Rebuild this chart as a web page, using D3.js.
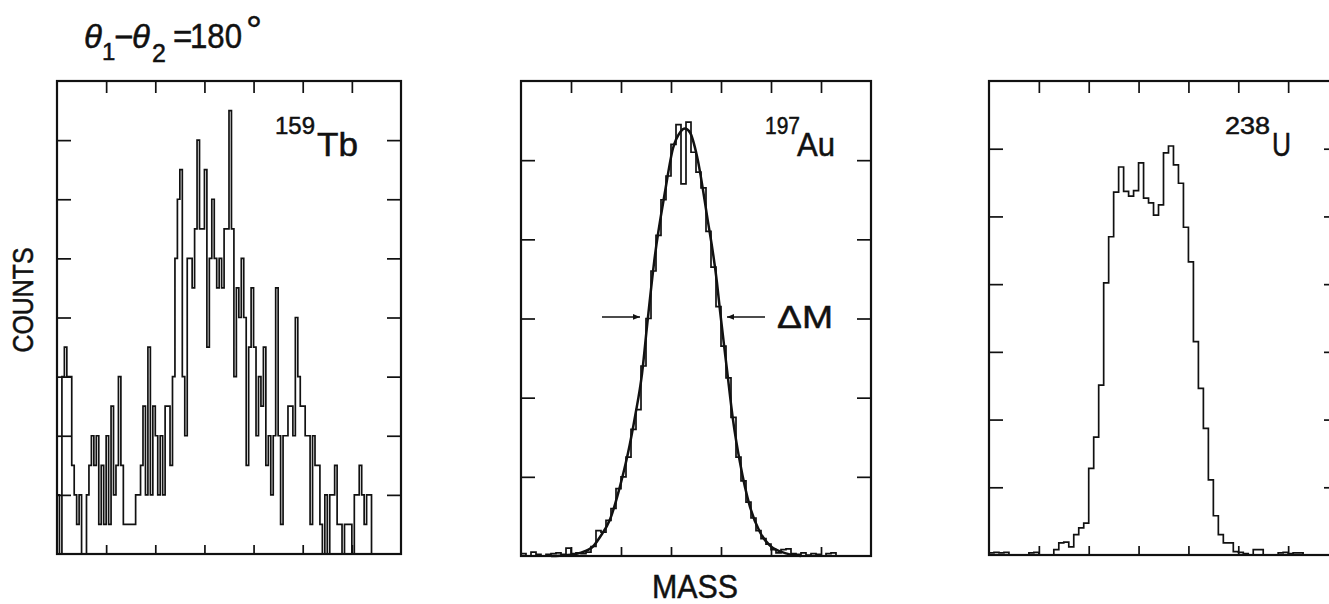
<!DOCTYPE html>
<html>
<head>
<meta charset="utf-8">
<script src="https://cdn.jsdelivr.net/npm/d3@7"></script>
<style>
  body { margin: 0; background: #fff; }
  text { font-family: "Liberation Sans", Arial, sans-serif; fill: #111; stroke: #111; stroke-width: 0.5; }
</style>
</head>
<body>
<div id="chart"></div>
<script>
// counts per channel
const tbCounts = [
  2, 0, 6, 7, 6, 6, 3, 2, 1, 2,
  0, 0, 2, 3, 4, 3, 4, 1, 3, 1,
  4, 1, 5, 2, 3, 6, 3, 1, 1, 1,
  1, 1, 2, 2, 3, 5, 2, 7, 2, 5,
  4, 2, 4, 2, 5, 5, 3, 6, 10, 12,
  13, 6, 4, 10, 10, 9, 11, 14, 11, 11,
  13, 7, 10, 12, 10, 9, 10, 9, 11, 11,
  15, 11, 6, 9, 8, 10, 8, 3, 7, 9,
  7, 4, 6, 5, 7, 3, 4, 2, 4, 9,
  4, 1, 4, 4, 5, 5, 4, 8, 6, 5,
  5, 4, 4, 1, 4, 3, 3, 1, 0, 2,
  0, 2, 2, 3, 1, 1, 0, 1, 1, 1,
  0, 2, 2, 3, 2, 1, 2, 2, 0, 0,
  0, 0, 0, 0, 0, 0, 0, 0, 0, 0
];

const auCounts = [
  3, 0, 5, 2, 0, 2, 3, 4, 2, 10,
  3, 4, 3, 5, 12, 32, 30, 45, 60, 85,
  100, 125, 160, 185, 240, 300, 360, 405, 450, 480,
  520, 545, 470, 548, 510, 485, 465, 410, 365, 315,
  265, 225, 175, 125, 95, 68, 48, 32, 22, 15,
  8, 4, 8, 9, 3, 2, 4, 1, 3, 2,
  0, 3, 4, 0, 0, 0, 0, 0, 0, 0
];

// gaussian fit drawn over the Au spectrum (channel, counts)
const auFit = [
  [6, 0], [9, 1], [11.8, 4], [14.4, 12], [15.8, 24], [17.8, 46], [19.8, 88],
  [21.4, 130], [22.8, 176], [24.2, 230], [25.2, 290], [26.8, 380], [28.8, 460],
  [30.4, 515], [31.8, 535], [32.8, 540], [33.8, 535], [35.2, 505], [37.2, 430],
  [39.2, 345], [39.8, 310], [41.2, 235], [42.4, 172], [43.8, 118], [45.8, 62],
  [47.8, 30], [49.8, 13], [53.2, 3], [56, 0]
];

// FWHM arrows (channel from -> to, counts level)
const fwhmArrows = [
  { from: 16.2, to: 23.8, level: 302 },
  { from: 48.8, to: 41.2, level: 302 }
];

const uCounts = [
  3, 4, 3, 4, 0, 0, 0, 0, 3, 4,
  0, 0, 0, 8, 18, 19, 12, 30, 40, 47,
  128, 174, 251, 402, 470, 536, 573, 537, 530, 538,
  579, 527, 520, 502, 517, 594, 604, 576, 549, 484,
  433, 315, 246, 187, 111, 58, 30, 18, 18, 5,
  4, 2, 0, 8, 8, 0, 0, 0, 3, 4,
  2, 3, 3, 0, 0, 0, 0, 0, 0, 0
];

const panels = [
  { counts: tbCounts, xMax: 140, xStep: 20, yMax: 16, yStep: 2,
    left: 57, right: 401, top: 81, bottom: 554,
    iso: "159", el: "Tb", isoX: 275, isoLen: 40, elX: 317, elLen: 41 },
  { counts: auCounts, xMax: 70, xStep: 10, yMax: 600, yStep: 100,
    left: 521, right: 871, top: 81, bottom: 556,
    iso: "197", el: "Au", isoX: 765, isoLen: 35, elX: 797, elLen: 38, fit: auFit },
  { counts: uCounts, xMax: 70, xStep: 10, yMax: 700, yStep: 100,
    left: 989, right: 1338, top: 81, bottom: 555,
    iso: "238", el: "U", isoX: 1225, isoLen: 45, elX: 1272, elLen: 19 }
];

const width = 1329, height = 604;

const svg = d3.select("#chart")
  .append("svg")
  .attr("width", width)
  .attr("height", height)
  .style("display", "block");

svg.append("rect").attr("width", width).attr("height", height).attr("fill", "#fff");

svg.append("defs").append("marker")
  .attr("id", "arrow")
  .attr("viewBox", "0 0 10 10")
  .attr("refX", 10).attr("refY", 5)
  .attr("markerWidth", 8).attr("markerHeight", 7)
  .attr("markerUnits", "userSpaceOnUse")
  .attr("orient", "auto")
  .append("path")
  .attr("d", "M0,1 L10,5 L0,9 Z")
  .attr("fill", "#111");

const noLabels = g => {
  g.select(".domain").remove();
  g.selectAll(".tick line").attr("stroke", "#111").attr("stroke-width", 1.7);
};

panels.forEach(p => {
  const x = d3.scaleLinear().domain([0, p.xMax]).range([p.left, p.right]);
  const y = d3.scaleLinear().domain([0, p.yMax]).range([p.bottom, p.top]);
  const xt = d3.range(p.xStep, p.xMax, p.xStep);
  const yt = d3.range(p.yStep, p.yMax, p.yStep);

  const g = svg.append("g");

  g.append("g").attr("transform", "translate(" + p.left + ",0)")
    .call(d3.axisLeft(y).tickValues(yt).tickSize(-14).tickFormat("")).call(noLabels);
  g.append("g").attr("transform", "translate(" + p.right + ",0)")
    .call(d3.axisRight(y).tickValues(yt).tickSize(-14).tickFormat("")).call(noLabels);
  g.append("g").attr("transform", "translate(0," + p.top + ")")
    .call(d3.axisTop(x).tickValues(xt).tickSize(-12).tickFormat("")).call(noLabels);
  g.append("g").attr("transform", "translate(0," + p.bottom + ")")
    .call(d3.axisBottom(x).tickValues(xt).tickSize(-9).tickFormat("")).call(noLabels);

  // histogram as a stepped outline
  const pts = p.counts.map((c, i) => [i, c]);
  pts.push([p.counts.length, p.counts[p.counts.length - 1]]);
  const step = d3.line()
    .x(d => x(d[0]))
    .y(d => y(d[1]))
    .curve(d3.curveStepAfter);

  g.append("path")
    .datum(pts)
    .attr("fill", "none")
    .attr("stroke", "#111")
    .attr("stroke-width", 1.7)
    .attr("d", step);

  if (p.fit) {
    const smooth = d3.line()
      .x(d => x(d[0]))
      .y(d => y(d[1]))
      .curve(d3.curveMonotoneX);
    g.append("path")
      .datum(p.fit)
      .attr("fill", "none")
      .attr("stroke", "#111")
      .attr("stroke-width", 2.5)
      .attr("d", smooth);

    g.selectAll(".fwhm")
      .data(fwhmArrows)
      .enter()
      .append("line")
      .attr("class", "fwhm")
      .attr("x1", d => x(d.from))
      .attr("x2", d => x(d.to))
      .attr("y1", d => y(d.level))
      .attr("y2", d => y(d.level))
      .attr("stroke", "#111")
      .attr("stroke-width", 1.5)
      .attr("marker-end", "url(#arrow)");

    g.append("text")
      .attr("x", 777).attr("y", 328)
      .attr("font-size", 32)
      .attr("textLength", 56).attr("lengthAdjust", "spacingAndGlyphs")
      .text("\u0394M");
  }

  // frame
  g.append("rect")
    .attr("x", p.left).attr("y", p.top)
    .attr("width", p.right - p.left).attr("height", p.bottom - p.top)
    .attr("fill", "none")
    .attr("stroke", "#111")
    .attr("stroke-width", 2.2);

  // isotope label
  g.append("text")
    .attr("x", p.isoX).attr("y", 134)
    .attr("font-size", 23)
    .attr("textLength", p.isoLen).attr("lengthAdjust", "spacingAndGlyphs")
    .text(p.iso);
  g.append("text")
    .attr("x", p.elX).attr("y", 156)
    .attr("font-size", 33)
    .attr("textLength", p.elLen).attr("lengthAdjust", "spacingAndGlyphs")
    .text(p.el);
});

// axis titles
svg.append("text")
  .attr("transform", "translate(33,300) rotate(-90)")
  .attr("text-anchor", "middle")
  .attr("font-size", 29)
  .attr("textLength", 105).attr("lengthAdjust", "spacingAndGlyphs")
  .text("COUNTS");

svg.append("text")
  .attr("x", 652).attr("y", 598)
  .attr("font-size", 34)
  .attr("textLength", 86).attr("lengthAdjust", "spacingAndGlyphs")
  .text("MASS");

// angle condition
const title = svg.append("text").attr("y", 48).attr("font-size", 33);
title.append("tspan").attr("x", 84).attr("font-style", "italic").text("\u03b8");
title.append("tspan").attr("x", 102).attr("y", 60).attr("font-size", 24).text("1");
title.append("tspan").attr("x", 114).attr("y", 48).text("\u2212");
title.append("tspan").attr("x", 132).attr("font-style", "italic").text("\u03b8");
title.append("tspan").attr("x", 152).attr("y", 62).attr("font-size", 25).text("2");
title.append("tspan").attr("x", 173).attr("y", 48).text("=");
title.append("tspan").attr("x", 190).attr("font-size", 35)
  .attr("textLength", 52).attr("lengthAdjust", "spacingAndGlyphs").text("180");
title.append("tspan").attr("x", 246).attr("y", 44).attr("font-size", 40).text("\u00b0");
</script>
</body>
</html>
